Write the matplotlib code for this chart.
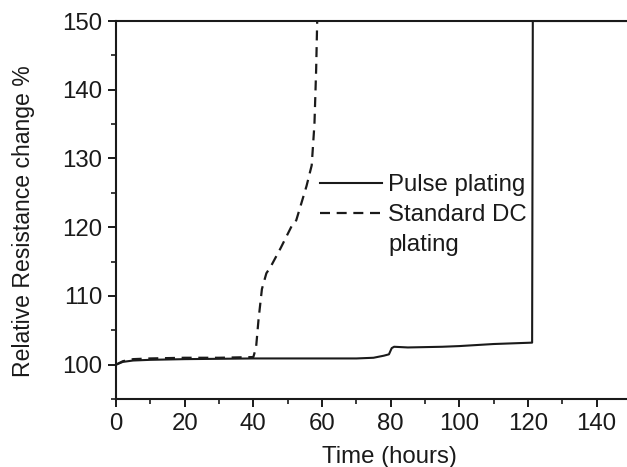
import matplotlib
matplotlib.use("Agg")
import matplotlib.pyplot as plt
from matplotlib.lines import Line2D
from matplotlib.ticker import MultipleLocator

plt.rcParams['font.family'] = ['Liberation Sans', 'DejaVu Sans']

# Pulse plating resistance trace
pulse_t = [0, 2, 5, 10, 20, 40, 60, 70, 75, 78, 79.5, 80.3, 81, 85, 95, 100, 110, 121.2, 121.4, 150]
pulse_r = [100.0, 100.4, 100.6, 100.7, 100.8, 100.9, 100.9, 100.9, 101.0, 101.3, 101.5, 102.4, 102.6, 102.5, 102.6, 102.7, 103.0, 103.2, 150.0, 150.0]

# Standard DC plating resistance trace
dc_t = [0, 2, 5, 10, 20, 30, 40, 40.8, 41.5, 42.5, 43.8, 45, 48, 51.5, 52.5, 55.5, 57, 57.8, 58.3, 58.6]
dc_r = [100.0, 100.5, 100.8, 100.9, 101.0, 101.0, 101.1, 102.5, 106.5, 111.0, 113.3, 114.2, 117.0, 120.5, 121.0, 126.0, 129.0, 135.0, 143.0, 150.0]

x_limits = (0, 150)
y_limits = (95, 150)
x_ticks = [0, 20, 40, 60, 80, 100, 120, 140]
y_ticks = [100, 110, 120, 130, 140, 150]

fig = plt.figure(figsize=(6.27, 4.67), dpi=100)
ax = fig.add_axes([116 / 627, 68 / 467, 515 / 627, 378 / 467])

ink = '#1a1a1a'
fs = 17.3
pulse_line, = ax.plot(pulse_t, pulse_r, color=ink, lw=1.5)
dc_line, = ax.plot(dc_t, dc_r, color=ink, lw=1.6, linestyle=(0, (4.5, 3)))

ax.set_xlim(*x_limits)
ax.set_ylim(*y_limits)
ax.set_xticks(x_ticks)
ax.set_yticks(y_ticks)
ax.xaxis.set_minor_locator(MultipleLocator(10))
ax.yaxis.set_minor_locator(MultipleLocator(5))
ax.tick_params(which='major', direction='out', length=6, width=1.4,
               labelsize=fs, colors=ink, pad=4)
ax.tick_params(which='minor', direction='out', length=3.5, width=1.2, colors=ink)
for s in ax.spines.values():
    s.set_linewidth(1.5)
    s.set_color(ink)

ax.set_xlabel('Time (hours)', fontsize=fs, color=ink)
ax.set_ylabel('Relative Resistance change %', fontsize=16.6, color=ink)
ax.xaxis.set_label_coords(0.53, -0.125, transform=ax.transAxes)
ax.xaxis.label.set_va('top')
ax.yaxis.set_label_coords(-0.158, 0.47, transform=ax.transAxes)

# the DC label wraps onto a second row; its handle stays on the first row
blank = Line2D([], [], linestyle='none')
leg = ax.legend([pulse_line, dc_line, blank],
                ['Pulse plating', 'Standard DC', 'plating'],
                loc='upper left', bbox_to_anchor=(0.396, 0.594), frameon=False,
                fontsize=fs, handlelength=2.6, handletextpad=0.25,
                borderpad=0, labelspacing=0.33, borderaxespad=0)
for t in leg.get_texts():
    t.set_color(ink)

fig.savefig('out.png', dpi=100)
